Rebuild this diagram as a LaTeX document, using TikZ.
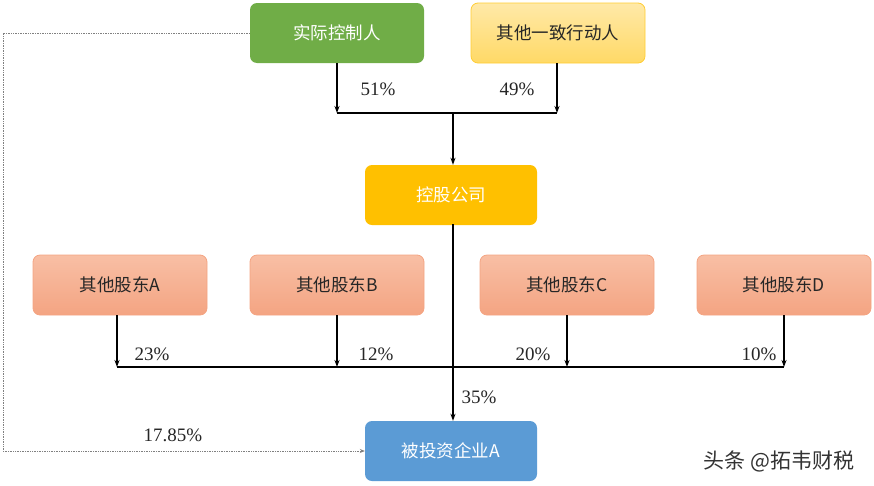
\documentclass[tikz,border=0pt]{standalone}
\usepackage{fontspec}
\setmainfont{Liberation Serif}
\newfontfamily\cjk{Noto Sans CJK SC}
\usetikzlibrary{arrows.meta}
\definecolor{gr}{HTML}{70AD47}
\definecolor{yl}{HTML}{FFC000}
\definecolor{lyA}{HTML}{FFE9A8}
\definecolor{lyB}{HTML}{FFD966}
\definecolor{sA}{HTML}{F8BFA5}
\definecolor{sB}{HTML}{F4A482}
\definecolor{bl}{HTML}{5B9BD5}
\tikzset{
  box/.style={rounded corners=7pt, minimum width=174pt, minimum height=60pt, inner sep=0pt, font=\cjk\fontsize{17.5}{20}\selectfont},
  shbox/.style={box, top color=sA, bottom color=sB, draw=sB, line width=0.8pt, text=black!85},
  conn/.style={line width=1.6pt, black},
  arr/.style={conn, -{Stealth[length=7pt,width=5pt]}},
  pct/.style={font=\fontsize{19}{22}\selectfont, text=black!85},
}
\begin{document}
\begin{tikzpicture}[x=1pt,y=-1pt]
\useasboundingbox (0,0) rectangle (874,485);
\node[box, fill=gr, text=white] (ctrl) at (337,33) {实际控制人};
\node[box, top color=lyA, bottom color=lyB, draw=yl!80, line width=0.8pt, text=black!85] (act) at (558,33) {其他一致行动人};
\node[box, fill=yl, minimum width=172pt, text=white] (hold) at (451,195) {控股公司};
\node[shbox] (sa) at (120,285) {其他股东A};
\node[shbox] (sb) at (337,285) {其他股东B};
\node[shbox] (sc) at (567,285) {其他股东C};
\node[shbox] (sd) at (784,285) {其他股东D};
\node[box, fill=bl, minimum width=172pt, text=white] (tgt) at (451,451) {被投资企业A};

% top merge
\coordinate (m1) at (337,113);
\coordinate (m2) at (557,113);
\coordinate (m3) at (453,113);
\draw[arr] (ctrl.south) -- (m1);
\draw[arr] (act.south -| m2) -- (m2);
\draw[conn] (m1) -- (m2);
\draw[arr] (m3) -- (m3 |- hold.north);
\node[pct] (p51) at (378,89) {51\%};
\node[pct] (p49) at (517,89) {49\%};

% bottom merge
\coordinate (n1) at (117,367);
\coordinate (n2) at (337,367);
\coordinate (n3) at (567,367);
\coordinate (n4) at (784,367);
\draw[arr] (sa.south -| n1) -- (n1);
\draw[arr] (sb.south -| n2) -- (n2);
\draw[arr] (sc.south -| n3) -- (n3);
\draw[arr] (sd.south -| n4) -- (n4);
\draw[conn] (n1) -- (n4);
\coordinate (h) at (453,224);
\draw[arr] (h) -- (h |- tgt.north);
\node[pct] (p23) at (152,354) {23\%};
\node[pct] (p12) at (376,354) {12\%};
\node[pct] (p20) at (533,354) {20\%};
\node[pct] (p10) at (759,354) {10\%};
\node[pct] (p35) at (479,397) {35\%};

% dotted
\coordinate (d1) at (3,33);
\coordinate (d2) at (3,451);
\draw[gray, densely dotted, line width=0.7pt, -{Stealth[length=5pt,width=4pt]}] (ctrl.west) -- (d1) -- (d2) -- (tgt.west);
\node[pct] (p17) at (173,435) {17.85\%};

\node[font=\cjk\fontsize{21}{24}\selectfont, text=black!80] (wm) at (779,461) {头条 @拓韦财税};
\end{tikzpicture}
\end{document}
